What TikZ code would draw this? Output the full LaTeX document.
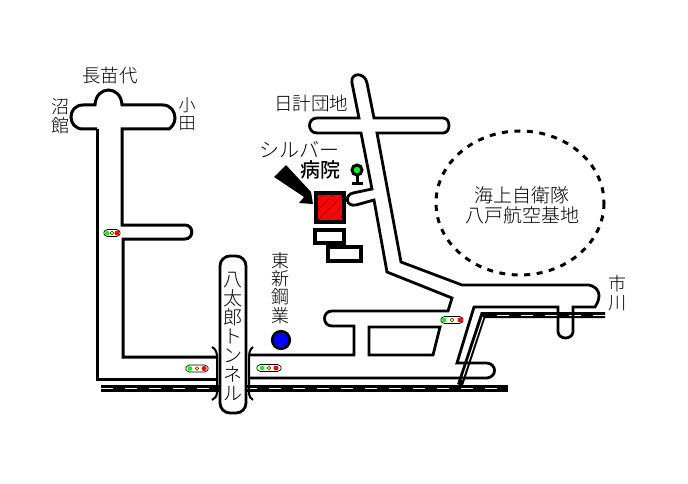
\documentclass[tikz,border=0pt]{standalone}
\usepackage{fontspec}
\setmainfont{Noto Sans CJK JP Light}
\newfontfamily\jpmed{Noto Sans CJK JP Medium}
\definecolor{sigred}{RGB}{255,0,0}
\definecolor{siggreen}{RGB}{0,255,0}
\definecolor{sigyellow}{RGB}{255,255,0}
\tikzset{
  road/.style={line width=2.8pt,line join=miter,line cap=butt},
  wroad/.style={line width=3pt,line join=miter},
  rail/.style={line width=6.5pt},
  raildash/.style={line width=1pt,white,dash pattern=on 12pt off 12pt},
  lab/.style={inner sep=0pt,align=center},
}
\newcommand{\sig}[4]{% x y halfwidth gap
  \draw[line width=.7pt,fill=white,rounded corners=1.5pt]
    (#1-#3,#2) -- (#1-#3+3,#2-3.5) -- (#1+#3-3,#2-3.5) -- (#1+#3,#2) -- (#1+#3-3,#2+3.5) -- (#1-#3+3,#2+3.5) -- cycle;
  \fill[siggreen] (#1-#4,#2) circle (2.3);
  \fill[sigyellow,draw=black,line width=.3pt] (#1,#2) circle (1.8);
  \fill[sigred] (#1+#4,#2) circle (2.5);
}
\begin{document}
\begin{tikzpicture}[x=1pt,y=-1pt]
\useasboundingbox (0,0) rectangle (688,484);
\fill[white] (0,0) rectangle (688,484);

% railway horizontal and branch
\draw[rail] (101,388.5) -- (508,388.5);
\draw[raildash] (101,388.5) -- (508,388.5);
\draw[line width=6pt,line join=miter] (605,315) -- (483,315) -- (460,385);
\draw[raildash] (605,315) -- (485,315);
\draw[line width=1pt,white] (483,317) -- (462,380);

% west road
\draw[wroad] (97,129) -- (97,379) -- (217,379);
\draw[wroad] (97,129) -- (83,129) .. controls (67,129) and (67,105) .. (83,105) -- (95,105)
  .. controls (96,85) and (121,85) .. (122,105) -- (163,105)
  .. controls (171,105) and (175,112) .. (175,118) .. controls (175,123) and (172,127) .. (169,129) -- (122,129) -- (122,225) -- (185,225)
  .. controls (194,225) and (194,239) .. (185,239) -- (123,239) -- (123,357) -- (217,357);

% east roads
\draw[road] (249,355) -- (354,355) -- (354,326) -- (332,326)
  .. controls (322,326) and (322,311) .. (332,311) -- (448,311) -- (452,298) -- (387,272)
  -- (374,200) -- (356,205) .. controls (346,207) and (344,195) .. (353,193) -- (372,189)
  -- (361,133) -- (317,133) .. controls (307,133) and (307,118) .. (317,118) -- (359,118) -- (352,83)
  .. controls (350,72) and (365,72) .. (367,83) -- (374,118) -- (443,118)
  .. controls (451,118) and (451,133) .. (443,133) -- (377,133) -- (401,262) -- (462,285) -- (589,285)
  .. controls (598,287) and (603,295) .. (595,307) -- (573,307) -- (573,332)
  .. controls (572,340) and (559,340) .. (558,332) -- (558,307) -- (474,307) -- (457,363) -- (487,363)
  .. controls (497,364) and (497,377) .. (487,378) -- (249,378);
\draw[road] (369,327) -- (440,327) -- (433,355) -- (369,355) -- cycle;

% airfield
\draw[line width=3pt,dash pattern=on 6pt off 6.5pt] (520,203) ellipse [x radius=84,y radius=72];

% hospital buildings
\fill[sigred] (316,193) rectangle (344,222);
\begin{scope}
  \clip (316,193) rectangle (344,222);
  \foreach \k in {-40,-30,...,30}
    \draw[line width=.7pt] (306+\k,232) -- (306+\k+40,192);
\end{scope}
\draw[line width=3.4pt] (316,193) rectangle (344,222);
\draw[line width=3.2pt] (315,230) rectangle (344,243);
\draw[line width=3.2pt] (328,247) rectangle (361,261);

% pointer
\fill (286,165) -- (311,192) -- (313,204) -- (299,203) -- (304,197) -- (274,177) -- cycle;

% tree
\draw[line width=3pt] (357,175) -- (357,183);
\draw[line width=2.4pt] (351.5,183.5) -- (362.5,183.5);
\draw[line width=3pt,fill=siggreen] (357,170) circle (5);

% blue marker
\draw[line width=2.6pt,fill=blue] (281,340) circle (8.8);

% tunnel
\draw[line width=2.8pt,fill=white,rounded corners=10pt] (220,256) rectangle (246,413);
\draw[line width=2pt] (212,347) .. controls (216,349) and (217,353) .. (217,357) -- (217,392) .. controls (217,396) and (215,399) .. (212,400);
\draw[line width=2pt] (253,347) .. controls (250,349) and (249,353) .. (249,357) -- (249,394) .. controls (249,396) and (251,399) .. (253,400);

% signals
\sig{112}{233}{9}{5}
\sig{197}{368.5}{12}{7}
\sig{269}{368}{13}{7}
\sig{452}{320}{12}{8}

% labels
\node[lab,font=\fontsize{18.5}{20}\selectfont] (nagana) at (110,76) {長苗代};
\node[lab,font=\fontsize{18}{19}\selectfont] (numa) at (60,116) {沼\\館};
\node[lab,font=\fontsize{17}{18}\selectfont] (oda) at (187,114) {小\\田};
\node[lab,font=\fontsize{18.5}{20}\selectfont] (danchi) at (311,103) {日計団地};
\node[lab,font=\fontsize{20}{22}\selectfont] (silver) at (299,150) {シルバー};
\node[lab,font=\fontsize{20}{22}\selectfont\jpmed] (byoin) at (320,170) {病院};
\node[lab,font=\fontsize{18}{18.2}\selectfont] (toshin) at (280,288) {東\\新\\鋼\\業};
\node[lab,font=\fontsize{19}{19}\selectfont] (tunnel) at (233,336) {八\\太\\郎\\ト\\ン\\ネ\\ル};
\node[lab,font=\fontsize{19}{20}\selectfont] (base) at (522,205) {海上自衛隊\\八戸航空基地};
\node[lab,font=\fontsize{18}{19}\selectfont] (ichi) at (617,293.5) {市\\川};
\end{tikzpicture}
\end{document}
